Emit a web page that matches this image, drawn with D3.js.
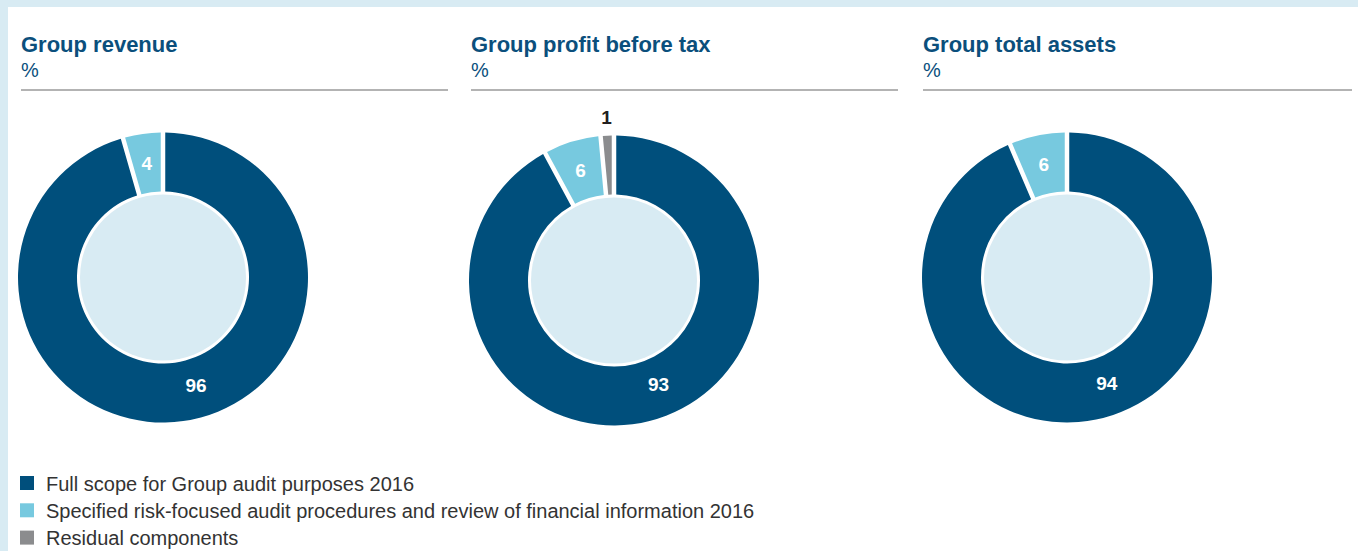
<!DOCTYPE html>
<html>
<head>
<meta charset="utf-8">
<script src="https://cdn.jsdelivr.net/npm/d3@7"></script>
<style>
  html, body { margin: 0; padding: 0; background: #ffffff; }
  svg { display: block; }
</style>
</head>
<body>
<svg id="chart" width="1358" height="551"></svg>
<script>
// ---- data ----
const chartTitles = ["Group revenue", "Group profit before tax", "Group total assets"];
const unitLabel = "%";
const categories = [
  "Full scope for Group audit purposes 2016",
  "Specified risk-focused audit procedures and review of financial information 2016",
  "Residual components"
];
const revenueValues = [96, 4, 0];
const profitValues = [93, 6, 1];
const assetsValues = [94, 6, 0];
const seriesList = [revenueValues, profitValues, assetsValues];

// ---- style ----
const colors = ["#004f7c", "#77c9df", "#8b8c8e"];
const titleColor = "#0b4f7c";
const discColor = "#d8ebf3";
const frameColor = "#d8ebf3";

const svg = d3.select("#chart");
const W = 1358, H = 551;

// frame bands
svg.append("rect").attr("x", 0).attr("y", 0).attr("width", W).attr("height", H).attr("fill", "#fff");
svg.append("rect").attr("x", 0).attr("y", 0).attr("width", W).attr("height", 7).attr("fill", frameColor);
svg.append("rect").attr("x", 0).attr("y", 0).attr("width", 8).attr("height", H).attr("fill", frameColor);

const panels = [
  {x0: 21, x1: 448, cx: 163, cy: 277.5},
  {x0: 471, x1: 898, cx: 614, cy: 280.5},
  {x0: 923, x1: 1352, cx: 1067, cy: 277.5}
];

const outerR = 145, innerR = 86, discR = 83;
const pie = d3.pie().sort(null).value(d => d.value).padAngle(4.5 / outerR);
const arc = d3.arc().innerRadius(innerR).outerRadius(outerR).padRadius(outerR);
const labelArc = d3.arc().innerRadius(innerR).outerRadius(outerR);
const font = "'Liberation Sans', Arial, Helvetica, sans-serif";

seriesList.forEach((vals, i) => {
  const p = panels[i];
  const g = svg.append("g");
  g.append("text").attr("x", p.x0).attr("y", 52)
    .attr("font-family", font).attr("font-weight", "bold").attr("font-size", 22)
    .attr("fill", titleColor).text(chartTitles[i]);
  g.append("text").attr("x", p.x0).attr("y", 77)
    .attr("font-family", font).attr("font-size", 20)
    .attr("fill", titleColor).text(unitLabel);
  g.append("line").attr("x1", p.x0).attr("x2", p.x1).attr("y1", 90).attr("y2", 90)
    .attr("stroke", "#9a9a9a").attr("stroke-width", 1.5);

  const data = vals.map((v, k) => ({value: v, k})).filter(d => d.value > 0);
  const arcs = pie(data);
  const dg = g.append("g").attr("transform", `translate(${p.cx},${p.cy})`);
  dg.selectAll("path").data(arcs).join("path")
    .attr("d", arc).attr("fill", d => colors[d.data.k]);
  dg.append("circle").attr("r", discR).attr("fill", discColor);

  arcs.forEach(a => {
    let x, y, fill = "#fff";
    if (a.data.k === 0) {
      const ang = (a.startAngle + a.endAngle) / 2 - 9 * Math.PI / 180;
      const r = 113;
      x = r * Math.sin(ang); y = -r * Math.cos(ang);
    } else if (a.data.k === 1) {
      [x, y] = labelArc.centroid(a);
    } else {
      const ang = (a.startAngle + a.endAngle) / 2;
      const r = 163.5;
      x = r * Math.sin(ang); y = -r * Math.cos(ang);
      fill = "#231f20";
    }
    dg.append("text").attr("x", x).attr("y", y).attr("dy", "0.36em")
      .attr("text-anchor", "middle").attr("font-family", font)
      .attr("font-weight", "bold").attr("font-size", 19).attr("fill", fill)
      .text(a.data.value);
  });
});

// legend
const lg = svg.append("g");
categories.forEach((c, k) => {
  const y = 476 + k * 27.3;
  lg.append("rect").attr("x", 20).attr("y", y).attr("width", 14).attr("height", 14).attr("fill", colors[k]);
  lg.append("text").attr("x", 46).attr("y", y + 14.5)
    .attr("font-family", font).attr("font-size", 20).attr("fill", "#333")
    .text(c);
});
</script>
</body>
</html>
